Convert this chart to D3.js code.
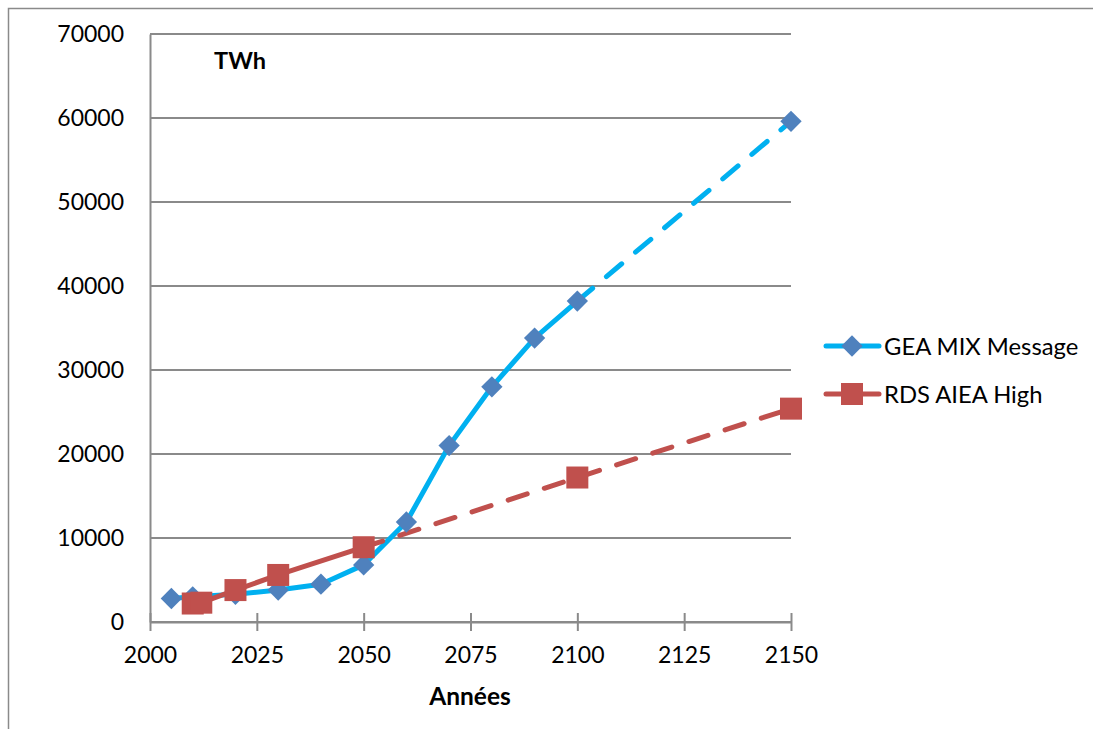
<!DOCTYPE html>
<html>
<head>
<meta charset="utf-8">
<script src="https://cdn.jsdelivr.net/npm/d3@7"></script>
<style>
  html, body { margin: 0; padding: 0; background: #fff; }
  svg { display: block; font-family: Lato, "Open Sans", sans-serif; }
</style>
</head>
<body>
<svg id="chart" width="1093" height="729"></svg>
<script>
// ---- data ----
const geaYears = [2005, 2010, 2020, 2030, 2040, 2050, 2060, 2070, 2080, 2090, 2100, 2150];
const geaValues = [2800, 3000, 3300, 3800, 4500, 6800, 11900, 21000, 28000, 33800, 38200, 59600];
const geaSolidUntil = 2100;

const rdsYears = [2010, 2012, 2020, 2030, 2050, 2100, 2150];
const rdsValues = [2200, 2300, 3800, 5600, 8900, 17200, 25400];
const rdsSolidUntil = 2050;

const xTicks = [2000, 2025, 2050, 2075, 2100, 2125, 2150];
const yTicks = [0, 10000, 20000, 30000, 40000, 50000, 60000, 70000];
const seriesNames = ["GEA MIX Message", "RDS AIEA High"];
const unitLabel = "TWh";
const xTitle = "Années";

// ---- layout ----
const svg = d3.select("#chart");
const plotLeft = 150, plotRight = 791, plotTop = 34, plotBottom = 622;
const x = d3.scaleLinear().domain([2000, 2150]).range([plotLeft, plotRight]);
const y = d3.scaleLinear().domain([0, 70000]).range([plotBottom, plotTop]);

const gridColor = "#8a8a8a";
const geaLine = "#00B0F0", geaMarker = "#4F81BD";
const rdsLine = "#C0504D", rdsMarker = "#C0504D";

// outer chart border
svg.append("rect").attr("x", 8.5).attr("y", 8.5).attr("width", 1200).attr("height", 800)
  .attr("fill", "none").attr("stroke", gridColor).attr("stroke-width", 1.5);

// gridlines
svg.append("g").selectAll("line").data(yTicks).join("line")
  .attr("x1", plotLeft).attr("x2", plotRight)
  .attr("y1", d => y(d)).attr("y2", d => y(d))
  .attr("stroke", gridColor).attr("stroke-width", 2);

// y axis
const yAxis = svg.append("g").attr("transform", `translate(${plotLeft},0)`)
  .call(d3.axisLeft(y).tickValues(yTicks).tickSize(0).tickPadding(26).tickFormat(d3.format("d")));
yAxis.select(".domain").attr("stroke", gridColor).attr("stroke-width", 2);
yAxis.selectAll("text").attr("font-size", 23).attr("fill", "#000").attr("font-family", "Lato, sans-serif");

// x axis
const xAxis = svg.append("g").attr("transform", `translate(0,${plotBottom})`)
  .call(d3.axisBottom(x).tickValues(xTicks).tickSizeInner(9).tickSizeOuter(0).tickPadding(16).tickFormat(d3.format("d")));
xAxis.select(".domain").attr("stroke", gridColor).attr("stroke-width", 2);
xAxis.selectAll(".tick line").attr("y1", -9).attr("stroke", gridColor).attr("stroke-width", 2);
xAxis.selectAll("text").attr("font-size", 23).attr("fill", "#000").attr("font-family", "Lato, sans-serif");

// titles
svg.append("text").attr("x", 240).attr("y", 69).attr("text-anchor", "middle")
  .attr("font-size", 23.5).attr("font-weight", "bold").text(unitLabel);
svg.append("text").attr("x", 470).attr("y", 705).attr("text-anchor", "middle")
  .attr("font-size", 24.5).attr("font-weight", "bold").text(xTitle);

// lines
const line = d3.line().x(d => x(d[0])).y(d => y(d[1]));
function drawSeries(years, values, solidUntil, color) {
  const pts = years.map((yr, i) => [yr, values[i]]);
  const solid = pts.filter(p => p[0] <= solidUntil);
  const dashed = pts.filter(p => p[0] >= solidUntil);
  svg.append("path").attr("d", line(solid)).attr("fill", "none")
    .attr("stroke", color).attr("stroke-width", 5).attr("stroke-linejoin", "round").attr("stroke-linecap", "round");
  svg.append("path").attr("d", line(dashed)).attr("fill", "none")
    .attr("stroke", color).attr("stroke-width", 5).attr("stroke-linecap", "round")
    .attr("stroke-dasharray", "20 18");
  return pts;
}
const geaPts = drawSeries(geaYears, geaValues, geaSolidUntil, geaLine);
const rdsPts = drawSeries(rdsYears, rdsValues, rdsSolidUntil, rdsLine);

// markers
const diamond = d3.symbol().type(d3.symbolDiamond2).size(290);
svg.append("g").selectAll("path").data(geaPts).join("path")
  .attr("d", diamond).attr("transform", d => `translate(${x(d[0])},${y(d[1])})`)
  .attr("fill", geaMarker);
const sq = 22;
svg.append("g").selectAll("rect").data(rdsPts).join("rect")
  .attr("x", d => x(d[0]) - sq / 2).attr("y", d => y(d[1]) - sq / 2)
  .attr("width", sq).attr("height", sq).attr("fill", rdsMarker);

// legend
const legend = svg.append("g");
const legendItems = [
  { name: seriesNames[0], line: geaLine, marker: "diamond", color: geaMarker, y: 346 },
  { name: seriesNames[1], line: rdsLine, marker: "square", color: rdsMarker, y: 394 }
];
legendItems.forEach(it => {
  legend.append("line").attr("x1", 826).attr("x2", 879).attr("y1", it.y).attr("y2", it.y)
    .attr("stroke", it.line).attr("stroke-width", 5).attr("stroke-linecap", "round");
  if (it.marker === "diamond") {
    legend.append("path").attr("d", diamond).attr("transform", `translate(852,${it.y})`).attr("fill", it.color);
  } else {
    legend.append("rect").attr("x", 852 - sq / 2).attr("y", it.y - sq / 2).attr("width", sq).attr("height", sq).attr("fill", it.color);
  }
  legend.append("text").attr("x", 884).attr("y", it.y + 8.5).attr("font-size", 23.8).attr("fill", "#000").text(it.name);
});
</script>
</body>
</html>
